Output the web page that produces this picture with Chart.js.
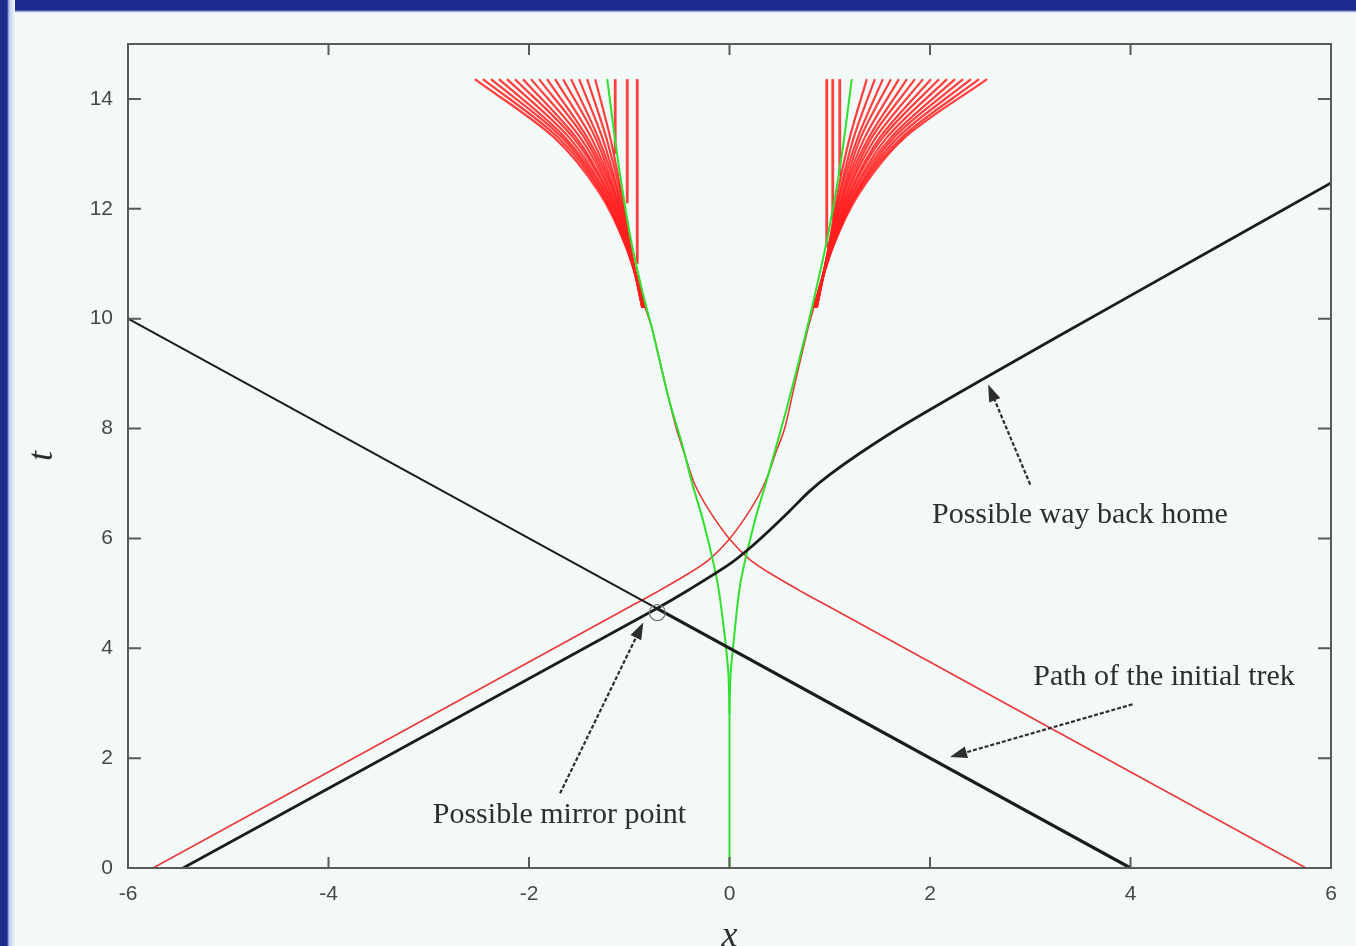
<!DOCTYPE html>
<html>
<head>
<meta charset="utf-8">
<script src="https://cdn.jsdelivr.net/npm/chart.js@4.4.1/dist/chart.umd.min.js"></script>
<style>
  html, body { margin: 0; padding: 0; }
  body { width: 1356px; height: 946px; overflow: hidden; background: #f2f9f6; position: relative; }
  .bar-top { position: absolute; left: 0; top: 0; width: 1356px; height: 13px;
             background: linear-gradient(to bottom, #1b2a8c 0, #1b2a8c 10px, #c9d6f2 12px, #f2f9f6 13px); }
  .bar-left { position: absolute; left: 0; top: 0; width: 15px; height: 946px;
              background: linear-gradient(to right, #1b2a8c 0, #1b2a8c 7px, #b8c7ef 9px, #f2f9f6 15px); }
  .wrap { position: absolute; left: 0; top: 0; width: 1356px; height: 946px; }
</style>
</head>
<body>
<div class="bar-top"></div>
<div class="bar-left"></div>
<div class="wrap"><canvas id="chart"></canvas></div>
<script>
// axes
const xMin = -6, xMax = 6, xStep = 2;
const tMin = 0, tMax = 15, tStep = 2;

// black: path of the initial trek (thin before the mirror point, thick after)
const trekInX = [-6, -0.725];
const trekInT = [10.0, 4.725];
const trekOutX = [-0.725, 4];
const trekOutT = [4.725, 0];

// black: possible way back home
const homeX = [-5.45, -3, -0.725, -0.4, 0, 0.2, 0.4, 0.6, 0.8, 1.0, 1.3, 1.7, 2.5, 4, 6];
const homeT = [0, 2.45, 4.725, 5.07, 5.53, 5.82, 6.15, 6.5, 6.86, 7.16, 7.55, 8.02, 8.87, 10.42, 12.47];

// red light-like curves
const redUpX = [-5.75, -3, -1, -0.72, -0.4, -0.2, 0, 0.2, 0.35, 0.47, 0.55, 0.65, 0.78, 0.84];
const redDownX = [5.75, 3, 1, 0.72, 0.4, 0.2, 0, -0.2, -0.35, -0.46, -0.53, -0.64, -0.77, -0.84];
const redT = [0, 2.75, 4.75, 5.03, 5.37, 5.62, 5.99, 6.5, 7.0, 7.6, 8.0, 8.8, 9.8, 10.2];

// green cusp
const greenStemX = [0, 0];
const greenStemT = [0, 2.8];
const greenT = [2.8, 3.5, 4.1, 5.2, 6.3, 7.05, 7.7, 8.5, 9.8, 10.5, 11.5, 12.85, 14.36];
const greenRightX = [0, 0.01, 0.04, 0.11, 0.25, 0.37, 0.47, 0.59, 0.77, 0.86, 0.98, 1.11, 1.22];
const greenLeftX = [0, -0.01, -0.04, -0.12, -0.26, -0.38, -0.47, -0.6, -0.77, -0.87, -0.99, -1.11, -1.22];

// red fans at the top
const fanT = [10.2, 11.3, 12.3, 13.3, 14.36];
const fanRightX = [
  [0.84, 1.03, 1.30, 1.75, 2.57],
  [0.84, 1.03, 1.28, 1.72, 2.49],
  [0.84, 1.02, 1.27, 1.68, 2.41],
  [0.84, 1.02, 1.26, 1.64, 2.33],
  [0.85, 1.02, 1.24, 1.61, 2.25],
  [0.85, 1.01, 1.23, 1.57, 2.17],
  [0.85, 1.01, 1.21, 1.53, 2.09],
  [0.85, 1.01, 1.20, 1.50, 2.01],
  [0.86, 1.01, 1.18, 1.46, 1.93],
  [0.86, 1.00, 1.17, 1.42, 1.85],
  [0.86, 1.00, 1.15, 1.39, 1.77],
  [0.86, 1.00, 1.14, 1.35, 1.69],
  [0.87, 1.00, 1.13, 1.31, 1.61],
  [0.87, 0.99, 1.11, 1.28, 1.53],
  [0.87, 0.99, 1.10, 1.24, 1.45],
  [0.87, 0.99, 1.08, 1.20, 1.37]
];
const fanLeftX = [
  [-0.84, -1.03, -1.30, -1.75, -2.54],
  [-0.84, -1.03, -1.28, -1.71, -2.46],
  [-0.84, -1.02, -1.27, -1.67, -2.38],
  [-0.84, -1.02, -1.25, -1.64, -2.30],
  [-0.85, -1.02, -1.24, -1.60, -2.22],
  [-0.85, -1.01, -1.22, -1.56, -2.14],
  [-0.85, -1.01, -1.21, -1.53, -2.06],
  [-0.85, -1.01, -1.19, -1.49, -1.98],
  [-0.86, -1.01, -1.18, -1.45, -1.90],
  [-0.86, -1.00, -1.16, -1.42, -1.82],
  [-0.86, -1.00, -1.15, -1.38, -1.74],
  [-0.86, -1.00, -1.14, -1.34, -1.66],
  [-0.87, -1.00, -1.12, -1.31, -1.58],
  [-0.87, -0.99, -1.11, -1.27, -1.50],
  [-0.87, -0.99, -1.09, -1.23, -1.42],
  [-0.87, -0.99, -1.08, -1.19, -1.34]
];
const fanVertRightX = [0.97, 1.03, 1.10];
const fanVertRightT0 = [11.3, 11.8, 12.6];
const fanVertLeftX = [-0.92, -1.02, -1.14];
const fanVertLeftT0 = [11.0, 12.1, 13.0];

// annotations: [text, x, t]
const labels = [
  ['Possible way back home', 2.02, 6.28],
  ['Path of the initial trek', 3.03, 3.34],
  ['Possible mirror point', -2.96, 0.82]
];
// arrows: [tailX, tailT, tipX, tipT]
const arrows = [
  [3.0, 6.98, 2.58, 8.8],
  [4.02, 2.98, 2.2, 2.02],
  [-1.69, 1.36, -0.86, 4.47]
];
const mirrorPoint = [-0.72, 4.65];

const BLACK = '#1c1c1c', RED = '#e8383a', GREEN = '#2fe02f', FAN = 'rgba(255,30,30,0.85)';

function curve(xs, ts, color, width, order, tension) {
  return {
    data: xs.map((x, i) => ({ x: x, y: ts[i] })),
    showLine: true,
    borderColor: color,
    borderWidth: width,
    pointRadius: 0,
    tension: tension || 0,
    order: order
  };
}

const datasets = [
  curve(trekInX, trekInT, BLACK, 2, 0),
  curve(trekOutX, trekOutT, BLACK, 3.2, 0),
  curve(homeX, homeT, BLACK, 2.8, 0, 0.3),
  curve(greenStemX, greenStemT, GREEN, 2, 1),
  curve(greenRightX, greenT, GREEN, 2, 1, 0.3),
  curve(greenLeftX, greenT, GREEN, 2, 1, 0.3),
  curve(redUpX, redT, RED, 1.6, 2, 0.3),
  curve(redDownX, redT, RED, 1.6, 2, 0.3)
];
fanRightX.forEach(xs => datasets.push(curve(xs, fanT, FAN, 2.2, 3, 0.3)));
fanLeftX.forEach(xs => datasets.push(curve(xs, fanT, FAN, 2.2, 3, 0.3)));
fanVertRightX.forEach((x, i) => datasets.push(curve([x, x], [fanVertRightT0[i], 14.36], FAN, 2.8, 3)));
fanVertLeftX.forEach((x, i) => datasets.push(curve([x, x], [fanVertLeftT0[i], 14.36], FAN, 2.8, 3)));

function drawArrow(ctx, x1, y1, x2, y2) {
  const a = Math.atan2(y2 - y1, x2 - x1);
  ctx.save();
  ctx.strokeStyle = '#2e2e2e';
  ctx.fillStyle = '#2e2e2e';
  ctx.lineWidth = 2.2;
  ctx.setLineDash([4, 2]);
  ctx.beginPath();
  ctx.moveTo(x1, y1);
  ctx.lineTo(x2 - 12 * Math.cos(a), y2 - 12 * Math.sin(a));
  ctx.stroke();
  ctx.setLineDash([]);
  ctx.beginPath();
  ctx.moveTo(x2, y2);
  ctx.lineTo(x2 - 17 * Math.cos(a) + 6 * Math.sin(a), y2 - 17 * Math.sin(a) - 6 * Math.cos(a));
  ctx.lineTo(x2 - 17 * Math.cos(a) - 6 * Math.sin(a), y2 - 17 * Math.sin(a) + 6 * Math.cos(a));
  ctx.closePath();
  ctx.fill();
  ctx.restore();
}

const framePlugin = {
  id: 'frame',
  afterDraw(chart) {
    const ctx = chart.ctx;
    const a = chart.chartArea;
    const xs = chart.scales.x, ys = chart.scales.y;
    ctx.save();
    // frame
    ctx.strokeStyle = '#5a5a5a';
    ctx.lineWidth = 2;
    ctx.strokeRect(a.left, a.top, a.right - a.left, a.bottom - a.top);
    // inward ticks on all four sides
    ctx.beginPath();
    xs.ticks.forEach(t => {
      const px = xs.getPixelForValue(t.value);
      ctx.moveTo(px, a.bottom); ctx.lineTo(px, a.bottom - 11);
      ctx.moveTo(px, a.top); ctx.lineTo(px, a.top + 11);
    });
    ys.ticks.forEach(t => {
      const py = ys.getPixelForValue(t.value);
      ctx.moveTo(a.left, py); ctx.lineTo(a.left + 13, py);
      ctx.moveTo(a.right, py); ctx.lineTo(a.right - 13, py);
    });
    ctx.stroke();

    // annotations
    ctx.fillStyle = '#2e2e2e';
    ctx.font = '30px "Liberation Serif"';
    ctx.textBaseline = 'alphabetic';
    ctx.textAlign = 'left';
    labels.forEach(l => ctx.fillText(l[0], xs.getPixelForValue(l[1]), ys.getPixelForValue(l[2])));
    arrows.forEach(r => drawArrow(ctx,
      xs.getPixelForValue(r[0]), ys.getPixelForValue(r[1]),
      xs.getPixelForValue(r[2]), ys.getPixelForValue(r[3])));
    ctx.strokeStyle = '#777';
    ctx.lineWidth = 1.2;
    ctx.beginPath();
    ctx.arc(xs.getPixelForValue(mirrorPoint[0]), ys.getPixelForValue(mirrorPoint[1]), 8, 0, Math.PI * 2);
    ctx.stroke();

    // axis titles
    ctx.fillStyle = '#2e2e2e';
    ctx.font = 'italic 36px "Liberation Serif"';
    ctx.textAlign = 'center';
    ctx.fillText('x', (a.left + a.right) / 2, 946);
    ctx.translate(43, (a.top + a.bottom) / 2);
    ctx.rotate(-Math.PI / 2);
    ctx.textBaseline = 'middle';
    ctx.fillText('t', 0, 0);
    ctx.restore();
  }
};

new Chart(document.getElementById('chart'), {
  type: 'scatter',
  data: { datasets: datasets },
  options: {
    responsive: true,
    maintainAspectRatio: false,
    animation: false,
    layout: { padding: { left: 0, right: 25, top: 44, bottom: 0 } },
    plugins: { legend: { display: false }, tooltip: { enabled: false } },
    scales: {
      x: {
        type: 'linear', min: xMin, max: xMax,
        grid: { display: false, drawTicks: false },
        border: { display: false },
        ticks: { stepSize: xStep, padding: 14, color: '#474747', font: { family: 'Liberation Sans', size: 21 } },
        afterFit: s => { s.height = 78; }
      },
      y: {
        type: 'linear', min: tMin, max: tMax,
        grid: { display: false, drawTicks: false },
        border: { display: false },
        ticks: { stepSize: tStep, includeBounds: false, padding: 15, color: '#474747', font: { family: 'Liberation Sans', size: 21 } },
        afterFit: s => { s.width = 128; }
      }
    }
  },
  plugins: [framePlugin]
});
</script>
</body>
</html>
